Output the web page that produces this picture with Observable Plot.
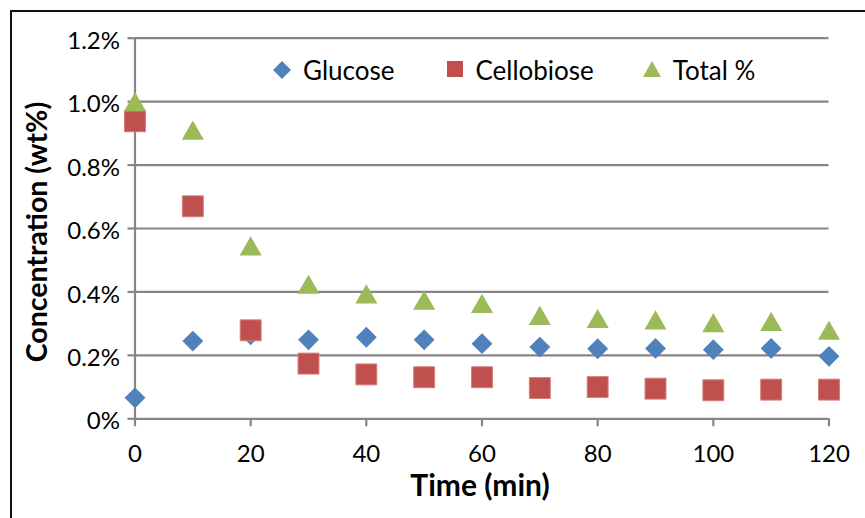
<!DOCTYPE html>
<html>
<head>
<meta charset="utf-8">
<script src="https://cdn.jsdelivr.net/npm/d3@7"></script>
<script src="https://cdn.jsdelivr.net/npm/@observablehq/plot@0.6"></script>
<style>
  html, body { margin: 0; padding: 0; background: #fff; }
  #wrap { position: relative; width: 865px; height: 518px; overflow: hidden; font-family: Lato, "Open Sans", sans-serif; }
  #frame { position: absolute; left: 10px; top: 10px; width: 900px; height: 600px; border-left: 2px solid #111; border-top: 2px solid #111; pointer-events: none; }
  #legend { position: absolute; left: 272px; top: 55px; display: flex; align-items: center; font-size: 26px; color: #000; line-height: 30px; }
  #legend .item { display: flex; align-items: center; }
  #legend svg { display: block; }
  #chart svg g[aria-label*="axis"] line,
  #chart svg g[aria-label*="axis"] path { stroke: #868686; stroke-width: 2.2px; stroke-opacity: 1; }
  #chart svg g[aria-label*="axis"] text { fill: #000; }
</style>
</head>
<body>
<div id="wrap">
  <div id="chart"></div>
  <div id="legend"></div>
  <div id="frame"></div>
</div>
<script>
const times = [0, 10, 20, 30, 40, 50, 60, 70, 80, 90, 100, 110, 120];
const glucose = [0.066, 0.245, 0.265, 0.249, 0.257, 0.249, 0.237, 0.226, 0.221, 0.222, 0.218, 0.222, 0.197];
const cellobiose = [0.938, 0.670, 0.279, 0.174, 0.140, 0.131, 0.131, 0.097, 0.100, 0.095, 0.090, 0.092, 0.092];
const total = [0.990, 0.900, 0.535, 0.414, 0.384, 0.364, 0.354, 0.316, 0.306, 0.302, 0.293, 0.297, 0.269];
const xTicks = [0, 20, 40, 60, 80, 100, 120];
const yTicks = [0, 0.2, 0.4, 0.6, 0.8, 1.0, 1.2];
const seriesNames = ["Glucose", "Cellobiose", "Total %"];
const colors = ["#4F81BD", "#C0504D", "#9BBB59"];

const rows = times.map((t, i) => ({t, glucose: glucose[i], cellobiose: cellobiose[i], total: total[i]}));
const grid = "#868686";
const fmtY = d => d === 0 ? "0%" : d.toFixed(1) + "%";

const chart = Plot.plot({
  width: 865,
  height: 518,
  marginLeft: 134.5,
  marginRight: 36.5,
  marginTop: 37.7,
  marginBottom: 99.7,
  x: {domain: [0, 120], ticks: xTicks, tickSize: 8, tickPadding: 18.5, tickFormat: d => String(d), label: null},
  y: {domain: [0, 1.2], ticks: yTicks, tickSize: 7, tickPadding: 8, tickFormat: fmtY, label: null},
  style: {fontFamily: "Lato, 'Open Sans', sans-serif", fontSize: "24px", color: "#000", background: "transparent", overflow: "visible"},
  marks: [
    Plot.ruleY(yTicks.filter(d => d > 0), {stroke: grid, strokeWidth: 2.2}),
    Plot.ruleY([0], {stroke: grid, strokeWidth: 2.2}),
    Plot.ruleX([0], {stroke: grid, strokeWidth: 2.2}),
    Plot.dot(rows, {x: "t", y: "glucose", symbol: "diamond2", r: 9.4, fill: colors[0], stroke: "none"}),
    Plot.dot(rows, {x: "t", y: "cellobiose", symbol: "square", r: 11.8, fill: colors[1], stroke: "#D47F7C", strokeWidth: 1}),
    Plot.dot(rows, {x: "t", y: "total", symbol: "triangle", r: 8.2, fill: colors[2], stroke: "none"})
  ]
});
document.getElementById("chart").appendChild(chart);

const svg = d3.select(chart);
// nudge y tick labels slightly down, as in the reference
svg.selectAll('g[aria-label^="y-axis"] text').each(function() {
  const t = this.getAttribute("transform");
  this.setAttribute("transform", (t ? t + " " : "") + "translate(0,3)");
});
svg.append("text")
  .attr("x", 480).attr("y", 496)
  .attr("text-anchor", "middle")
  .attr("font-family", "Lato, 'Open Sans', sans-serif")
  .attr("font-weight", "bold")
  .attr("font-size", 30)
  .attr("fill", "#000")
  .text("Time (min)");
svg.append("text")
  .attr("transform", "translate(47,232) rotate(-90)")
  .attr("text-anchor", "middle")
  .attr("font-family", "Lato, 'Open Sans', sans-serif")
  .attr("font-weight", "bold")
  .attr("font-size", 28.5)
  .attr("fill", "#000")
  .text("Concentration (wt%)");

// legend
const legend = d3.select("#legend");
const symbols = [
  {w: 20, path: "M10,1L19,10L10,19L1,10Z"},
  {w: 18, path: "M1,1H17V17H1Z"},
  {w: 20, path: "M10,1L19,17H1Z"}
];
const gaps = [0, 52, 48];
seriesNames.forEach((name, i) => {
  const item = legend.append("div").attr("class", "item").style("margin-left", gaps[i] + "px");
  const s = item.append("svg").attr("width", symbols[i].w).attr("height", 20);
  s.append("path").attr("d", symbols[i].path).attr("fill", colors[i]);
  item.append("span").style("margin-left", "11px").text(name);
});
</script>
</body>
</html>
